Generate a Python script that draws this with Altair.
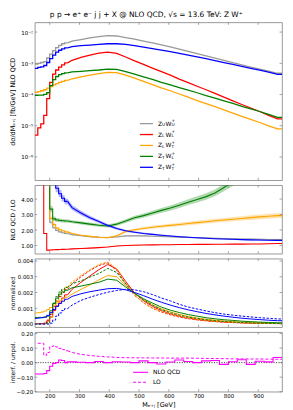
import altair as alt
import pandas as pd

# ---------------- data (bin edges in GeV) ----------------
edges = [150, 160, 170, 180, 190, 200, 210, 220, 230, 240, 250, 260,
         290, 320, 350, 380, 410, 440, 470, 500, 530, 560, 590, 620,
         650, 680, 710, 740, 770, 800, 830, 860, 890, 920, 950, 980]
NFINE = 11  # first 11 bins are 10 GeV wide

series = ["ZU WU", "ZL WL", "ZL WT", "ZT WL", "ZT WT"]
colors = ["#999999", "#ff0000", "#ffa500", "#008000", "#0000ff"]
subs = [("U", "U"), ("L", "L"), ("L", "T"), ("T", "L"), ("T", "T")]

# panel 1: dsigma/dM  [fb/GeV]
xsec_UU = [9.4e-4, 1.0e-3, 1.06e-3, 1.14e-3, 1.48e-3, 1.97e-3, 2.56e-3, 3.18e-3, 3.75e-3, 4.23e-3, 4.54e-3,
           5.1e-3, 5.77e-3, 6.5e-3, 7.16e-3, 7.69e-3, 7.5e-3, 6.7e-3, 5.9e-3, 5.15e-3, 4.5e-3, 3.9e-3, 3.35e-3,
           2.85e-3, 2.42e-3, 2.05e-3, 1.74e-3, 1.47e-3, 1.24e-3, 1.05e-3, 8.9e-4, 7.6e-4, 6.5e-4, 5.6e-4, 4.8e-4]
xsec_LL = [5.0e-6, 8.6e-6, 1.15e-5, 2.14e-5, 7.4e-5, 2.45e-4, 4.47e-4, 6.1e-4, 7.57e-4, 8.9e-4, 1.03e-3,
           1.25e-3, 1.55e-3, 1.83e-3, 2.11e-3, 2.27e-3, 2.07e-3, 1.59e-3, 1.19e-3, 9.2e-4, 7.0e-4, 5.4e-4, 4.16e-4,
           3.12e-4, 2.4e-4, 1.84e-4, 1.42e-4, 1.09e-4, 8.2e-5, 6.3e-5, 4.8e-5, 3.7e-5, 2.86e-5, 2.14e-5, 1.65e-5]
xsec_LT = [1.17e-4, 1.23e-4, 1.32e-4, 1.42e-4, 1.6e-4, 1.8e-4, 2.03e-4, 2.23e-4, 2.46e-4, 2.64e-4, 2.84e-4,
           3.2e-4, 3.69e-4, 4.16e-4, 4.69e-4, 5.15e-4, 5.03e-4, 4.16e-4, 3.35e-4, 2.64e-4, 2.08e-4, 1.64e-4, 1.32e-4,
           1.04e-4, 8.2e-5, 6.4e-5, 5.1e-5, 4.09e-5, 3.22e-5, 2.54e-5, 2.0e-5, 1.61e-5, 1.27e-5, 9.98e-6, 7.9e-6]
xsec_TL = [9.4e-5, 9.6e-5, 9.6e-5, 1.01e-4, 1.14e-4, 1.94e-4, 2.98e-4, 3.78e-4, 4.36e-4, 4.69e-4, 4.92e-4,
           5.28e-4, 5.55e-4, 5.81e-4, 6.1e-4, 6.55e-4, 6.4e-4, 5.4e-4, 4.47e-4, 3.69e-4, 3.05e-4, 2.46e-4, 2.03e-4,
           1.67e-4, 1.38e-4, 1.14e-4, 9.2e-5, 7.6e-5, 6.3e-5, 5.2e-5, 4.19e-5, 3.46e-5, 2.86e-5, 2.3e-5, 1.86e-5]
xsec_TT = [6.87e-4, 7.38e-4, 7.74e-4, 8.5e-4, 1.06e-3, 1.41e-3, 1.83e-3, 2.27e-3, 2.62e-3, 2.88e-3, 3.1e-3,
           3.41e-3, 3.66e-3, 3.85e-3, 4.03e-3, 4.23e-3, 4.23e-3, 4.03e-3, 3.7e-3, 3.3e-3, 2.95e-3, 2.65e-3, 2.35e-3,
           2.07e-3, 1.82e-3, 1.6e-3, 1.4e-3, 1.22e-3, 1.06e-3, 9.2e-4, 8.0e-4, 6.9e-4, 6.0e-4, 5.2e-4, 4.4e-4]

# panel 2: NLO QCD / LO  (9 = above the frame)
kfac_UU = [9, 9, 9, 9, 9, 2.5, 2.15, 1.98, 1.88, 1.82, 1.77,
           1.70, 1.63, 1.57, 1.53, 1.52, 1.55, 1.62, 1.63, 1.62, 1.60, 1.58, 1.56,
           1.54, 1.52, 1.50, 1.48, 1.46, 1.45, 1.43, 1.42, 1.41, 1.40, 1.39, 1.38]
kfac_LL = [9, 9, 9, 1.78, 0.70, 0.71, 0.72, 0.73, 0.74, 0.75, 0.76,
           0.78, 0.80, 0.83, 0.86, 0.90, 0.97, 1.00, 1.02, 1.03, 1.04, 1.05, 1.05,
           1.06, 1.06, 1.07, 1.07, 1.08, 1.08, 1.09, 1.09, 1.10, 1.10, 1.11, 1.13]
kfac_LT = [9, 9, 9, 9, 9, 2.75, 2.35, 2.12, 2.02, 1.95, 1.88,
           1.78, 1.66, 1.59, 1.53, 1.50, 1.62, 1.90, 2.02, 2.10, 2.18, 2.24, 2.30,
           2.36, 2.42, 2.48, 2.54, 2.60, 2.65, 2.70, 2.75, 2.80, 2.85, 2.89, 2.93]
kfac_TL = [9, 9, 9, 9, 9, 3.35, 2.72, 2.65, 2.62, 2.60, 2.58,
           2.53, 2.46, 2.38, 2.31, 2.26, 2.38, 2.58, 2.80, 2.93, 3.10, 3.27, 3.42,
           3.60, 3.80, 3.98, 4.16, 4.40, 4.75, 5.1, 5.5, 5.9, 6.3, 6.7, 7.1]
kfac_TT = [9, 9, 9, 9, 9, 9, 9, 4.7, 4.35, 4.05, 3.85,
           3.45, 3.10, 2.80, 2.55, 2.30, 2.10, 1.95, 1.86, 1.78, 1.72, 1.66, 1.61,
           1.57, 1.53, 1.50, 1.47, 1.44, 1.42, 1.40, 1.38, 1.36, 1.35, 1.34, 1.33]

# scale-uncertainty half widths of the K-factor bands
kband_UU = [0.3, 0.3, 0.3, 0.3, 0.3, 0.12, 0.08, 0.06, 0.05, 0.05, 0.05,
            0.04, 0.04, 0.04, 0.04, 0.04, 0.04, 0.04, 0.04, 0.04, 0.04, 0.04, 0.04,
            0.04, 0.04, 0.04, 0.04, 0.04, 0.05, 0.05, 0.05, 0.05, 0.05, 0.05, 0.05]
kband_LL = [0.02, 0.02, 0.02, 0.03, 0.02, 0.02, 0.02, 0.02, 0.02, 0.02, 0.02,
            0.02, 0.02, 0.02, 0.02, 0.02, 0.02, 0.02, 0.02, 0.02, 0.02, 0.02, 0.02,
            0.02, 0.02, 0.02, 0.02, 0.02, 0.02, 0.02, 0.02, 0.02, 0.02, 0.02, 0.02]
kband_LT = [0.3, 0.3, 0.3, 0.3, 0.3, 0.12, 0.10, 0.08, 0.07, 0.06, 0.06,
            0.05, 0.05, 0.05, 0.05, 0.05, 0.06, 0.07, 0.08, 0.09, 0.09, 0.10, 0.10,
            0.11, 0.11, 0.12, 0.12, 0.13, 0.13, 0.14, 0.14, 0.15, 0.15, 0.16, 0.16]
kband_TL = [0.3, 0.3, 0.3, 0.3, 0.3, 0.20, 0.15, 0.13, 0.12, 0.12, 0.11,
            0.10, 0.10, 0.10, 0.10, 0.10, 0.11, 0.12, 0.13, 0.14, 0.15, 0.16, 0.17,
            0.18, 0.19, 0.20, 0.21, 0.22, 0.24, 0.26, 0.28, 0.30, 0.30, 0.30, 0.30]
kband_TT = [0.3, 0.3, 0.3, 0.3, 0.3, 0.3, 0.3, 0.25, 0.22, 0.20, 0.18,
            0.16, 0.14, 0.12, 0.10, 0.09, 0.08, 0.07, 0.06, 0.06, 0.05, 0.05, 0.05,
            0.04, 0.04, 0.04, 0.04, 0.04, 0.04, 0.04, 0.04, 0.04, 0.04, 0.04, 0.04]

# panel 3: normalized shapes (units of 1e-3 / GeV), NLO QCD solid, LO dashed
norm_LL = [0.01, 0.02, 0.03, 0.06, 0.2, 0.45, 0.85, 1.15, 1.4, 1.65, 1.85,
           2.2, 2.65, 3.05, 3.45, 3.78, 3.5, 2.7, 1.97, 1.48, 1.12, 0.85, 0.65,
           0.5, 0.38, 0.29, 0.22, 0.17, 0.13, 0.10, 0.08, 0.06, 0.046, 0.035, 0.027]
norm_LT = [0.70, 0.72, 0.76, 0.82, 0.92, 1.05, 1.2, 1.33, 1.47, 1.6, 1.7,
           1.9, 2.2, 2.48, 2.8, 3.08, 3.0, 2.45, 1.95, 1.55, 1.22, 0.96, 0.77,
           0.61, 0.48, 0.38, 0.3, 0.24, 0.19, 0.15, 0.12, 0.095, 0.075, 0.06, 0.047]
norm_TL = [0.41, 0.42, 0.42, 0.44, 0.50, 0.84, 1.30, 1.64, 1.90, 2.04, 2.14,
           2.30, 2.41, 2.53, 2.65, 2.85, 2.78, 2.35, 1.94, 1.60, 1.33, 1.07, 0.88,
           0.73, 0.60, 0.50, 0.40, 0.33, 0.27, 0.23, 0.18, 0.15, 0.12, 0.10, 0.08]
norm_TT = [0.36, 0.38, 0.40, 0.44, 0.55, 0.72, 0.92, 1.12, 1.30, 1.45, 1.57,
           1.75, 1.92, 2.05, 2.15, 2.24, 2.26, 2.17, 2.00, 1.80, 1.58, 1.38, 1.20,
           1.04, 0.90, 0.78, 0.67, 0.58, 0.50, 0.43, 0.37, 0.32, 0.28, 0.24, 0.21]
normlo_LL = [0.005, 0.01, 0.02, 0.03, 0.25, 0.6, 1.1, 1.45, 1.75, 2.0, 2.2,
             2.55, 3.0, 3.4, 3.72, 3.88, 3.4, 2.55, 1.82, 1.35, 1.0, 0.76, 0.58,
             0.44, 0.34, 0.26, 0.2, 0.15, 0.115, 0.09, 0.07, 0.053, 0.041, 0.031, 0.024]
normlo_LT = [0, 0, 0, 0, 0.02, 0.4, 0.95, 1.45, 1.85, 2.15, 2.35,
             2.68, 3.08, 3.45, 3.78, 3.94, 3.5, 2.6, 1.85, 1.35, 1.0, 0.8, 0.63,
             0.49, 0.38, 0.29, 0.23, 0.17, 0.135, 0.105, 0.082, 0.064, 0.05, 0.039, 0.031]
normlo_TL = [0, 0, 0, 0, 0.1, 0.70, 1.34, 1.73, 2.03, 2.2, 2.32,
             2.55, 2.74, 2.98, 3.21, 3.53, 3.27, 2.55, 1.94, 1.53, 1.2, 0.92, 0.72,
             0.57, 0.44, 0.35, 0.27, 0.21, 0.16, 0.126, 0.092, 0.071, 0.053, 0.042, 0.032]
normlo_TT = [0, 0, 0, 0, 0, 0.05, 0.25, 0.5, 0.7, 0.85, 0.98,
             1.2, 1.5, 1.7, 1.87, 2.02, 2.13, 2.2, 2.17, 2.05, 1.87, 1.65, 1.47,
             1.25, 1.08, 0.95, 0.83, 0.72, 0.63, 0.56, 0.5, 0.45, 0.4, 0.36, 0.32]

# panel 4: interference / unpolarized
interf_nlo = [-0.078, -0.078, -0.078, -0.075, -0.055, -0.025, -0.005, 0.0, 0.018, 0.015, 0.0,
              0.005, 0.003, 0.0, 0.008, 0.0, 0.006, 0.004, 0.0, 0.012, 0.0, -0.01, 0.004,
              0.018, 0.008, 0.0, 0.012, 0.015, -0.012, 0.006, 0.02, -0.012, 0.01, 0.005, 0.035]
interf_lo = [None, 0.133, 0.133, 0.05, 0.07, 0.11, 0.115, 0.108, 0.098, 0.09, 0.082,
             0.07, 0.057, 0.049, 0.043, 0.039, 0.036, 0.034, 0.033, 0.033, 0.032, 0.032, 0.031,
             0.031, 0.031, 0.030, 0.029, 0.028, 0.027, 0.026, 0.026, 0.025, 0.025, 0.024, 0.023]

xticks = [200, 300, 400, 500, 600, 700, 800, 900]

# ---------------- styling ----------------
FONT = "DejaVu Sans"
FRAME = "#808080"
MAG = "#ff00ff"
W = 249
H1, H2, H3, H4 = 159, 69, 69, 60
TICK = 2.5
xsc = alt.Scale(domain=[150, 980], nice=False, zero=False)


def steps(vals, scale=1.0):
    rows = []
    n = len(vals)
    for i in range(n):
        if vals[i] is None:
            continue
        rows.append({"M": edges[i], "v": vals[i] * scale})
    rows.append({"M": edges[n], "v": vals[n - 1] * scale})
    return pd.DataFrame(rows)


def split(vals, half=None, scale=1.0):
    """Fine 10-GeV bins drawn as steps, wide bins drawn through their centres."""
    def row(m, i):
        h = half[i] if half else 0.0
        v = vals[i]
        return {"M": m, "v": v * scale, "lo": (v - h) * scale, "hi": (v + h) * scale}
    st, ln = [], []
    for i in range(NFINE):
        if vals[i] is None:
            continue
        st.append(row(edges[i], i))
    st.append(row(edges[NFINE], NFINE - 1))
    ln.append(row(edges[NFINE], NFINE - 1))
    for i in range(NFINE, len(vals)):
        ln.append(row((edges[i] + edges[i + 1]) / 2, i))
    n = len(vals)
    ln.append(row(edges[n], n - 1))
    return pd.DataFrame(st), pd.DataFrame(ln)


def frame_ticks(H, ysc, yvals, yax, xax=None):
    tx = pd.DataFrame({"t": xticks})
    ty = pd.DataFrame({"t": yvals})
    st = dict(color=FRAME, strokeWidth=0.7)
    xe = alt.X("t:Q", scale=xsc, axis=xax)
    ye = alt.Y("t:Q", scale=ysc, axis=yax)
    return [
        alt.Chart(tx).mark_rule(**st).encode(x=xe, y=alt.value(0), y2=alt.value(TICK)),
        alt.Chart(tx).mark_rule(**st).encode(x=xe, y=alt.value(H), y2=alt.value(H - TICK)),
        alt.Chart(ty).mark_rule(**st).encode(y=ye, x=alt.value(0), x2=alt.value(TICK)),
        alt.Chart(ty).mark_rule(**st).encode(y=ye, x=alt.value(W), x2=alt.value(W - TICK)),
    ]


def yaxis(title, H, values, fmt=None, expr=None, tsize=6):
    kw = dict(values=values, title=title, titleX=-22, titleY=H / 2, titleAngle=270,
              titleAlign="center", titleBaseline="middle", labelFontSize=5.5,
              labelPadding=2, titleFontSize=tsize)
    if fmt:
        kw["format"] = fmt
    if expr:
        kw["labelExpr"] = expr
    return alt.Axis(**kw)


ONE = alt.Data(values=[{"a": 1}])


def txt(s, x, y, size):
    return alt.Chart(ONE).mark_text(text=s, align="left", baseline="middle", font=FONT,
                                    fontSize=size, color="black").encode(
        x=alt.value(x), y=alt.value(y))


def legline(c, x0, x1, y, dash=None, width=1.3):
    kw = dict(color=c, strokeWidth=width)
    if dash:
        kw["strokeDash"] = dash
    return alt.Chart(ONE).mark_rule(**kw).encode(x=alt.value(x0), x2=alt.value(x1), y=alt.value(y))


def hybrid_lines(vals, c, ysc, yax, width, dash=None, scale=1.0, xax=None):
    out = []
    sdf, ldf = split(vals, scale=scale)
    for df, ip in ((sdf, "step-after"), (ldf, "linear")):
        kw = dict(interpolate=ip, color=c, strokeWidth=width, clip=True)
        if dash:
            kw["strokeDash"] = dash
        out.append(alt.Chart(df).mark_line(**kw).encode(
            x=alt.X("M:Q", scale=xsc, axis=xax), y=alt.Y("v:Q", scale=ysc, axis=yax)))
    return out


XN = alt.X("M:Q", scale=xsc, axis=None)

# ---------------- panel 1 ----------------
LOGEXPR = ("round(log(datum.value)/LN10) == -2 ? '10⁻²' : "
           "round(log(datum.value)/LN10) == -3 ? '10⁻³' : "
           "round(log(datum.value)/LN10) == -4 ? '10⁻⁴' : "
           "round(log(datum.value)/LN10) == -5 ? '10⁻⁵' : '10⁻⁶'")
y1vals = [1e-6, 1e-5, 1e-4, 1e-3, 1e-2]
y1 = alt.Scale(type="log", domain=[1.8e-7, 2.05e-2], nice=False)
ax1 = yaxis("dσ/dMₑ₊ⱼ [fb/GeV] NLO QCD", H1, y1vals, expr=LOGEXPR, tsize=6.5)
p1_layers = []
for vals, c in zip([xsec_UU, xsec_LL, xsec_LT, xsec_TL, xsec_TT], colors):
    p1_layers += hybrid_lines(vals, c, y1, ax1, 1.3)
p1_layers += frame_ticks(H1, y1, y1vals, ax1)
for k, (c, (s1, s2)) in enumerate(zip(colors, subs)):
    yy = 102 + 11 * k
    x0 = 124
    p1_layers.append(legline(c, 106, 119, yy))
    p1_layers.append(txt("Z", x0, yy, 6))
    p1_layers.append(txt(s1, x0 + 4.2, yy + 1.8, 4.3))
    p1_layers.append(txt("W", x0 + 7.6, yy, 6))
    p1_layers.append(txt(s2, x0 + 13.6, yy + 1.8, 4.3))
    p1_layers.append(txt("+", x0 + 13.6, yy - 2.4, 4.3))
p1 = alt.layer(*p1_layers).properties(width=W, height=H1)

# ---------------- panel 2 ----------------
y2vals = [1, 2, 3, 4]
y2s = alt.Scale(domain=[0.47, 4.9], nice=False, zero=False)
ax2 = yaxis("NLO QCD / LO", H2, y2vals, fmt=".2f")
kf = [kfac_UU, kfac_LL, kfac_LT, kfac_TL, kfac_TT]
kb = [kband_UU, kband_LL, kband_LT, kband_TL, kband_TT]
p2_layers = []
for vals, half, c in zip(kf, kb, colors):
    sdf, ldf = split(vals, half)
    for df, ip in ((sdf, "step-after"), (ldf, "linear")):
        p2_layers.append(alt.Chart(df).mark_area(
            interpolate=ip, color=c, opacity=0.3, clip=True).encode(
            x=XN, y=alt.Y("lo:Q", scale=y2s, axis=ax2), y2=alt.Y2("hi:Q")))
for vals, c in zip(kf, colors):
    p2_layers += hybrid_lines(vals, c, y2s, ax2, 1.1)
p2_layers += frame_ticks(H2, y2s, y2vals, ax2)
p2 = alt.layer(*p2_layers).properties(width=W, height=H2)

# ---------------- panel 3 ----------------
y3vals = [0, 0.001, 0.002, 0.003, 0.004]
y3s = alt.Scale(domain=[-0.0002, 0.00415], nice=False, zero=False)
ax3 = yaxis("normalized", H3, y3vals, fmt=".3f")
p3_layers = []
for nlo, lo, c in zip([norm_LL, norm_LT, norm_TL, norm_TT],
                      [normlo_LL, normlo_LT, normlo_TL, normlo_TT], colors[1:]):
    p3_layers += hybrid_lines(lo, c, y3s, ax3, 1.0, dash=[2.5, 1.5], scale=1e-3)
    p3_layers += hybrid_lines(nlo, c, y3s, ax3, 1.0, scale=1e-3)
p3_layers += frame_ticks(H3, y3s, y3vals, ax3)
p3 = alt.layer(*p3_layers).properties(width=W, height=H3)

# ---------------- panel 4 ----------------
y4vals = [-0.2, -0.1, 0.0, 0.1, 0.2]
y4s = alt.Scale(domain=[-0.2, 0.21], nice=False, zero=False)
ax4 = yaxis("interf. / unpol.", H4, y4vals, fmt=".2f")
xax = alt.Axis(values=xticks, format="d", title="Mₑ₊ⱼ [GeV]", labelFontSize=5.5,
               titleFontSize=6.5, labelPadding=2, titlePadding=2)
p4_layers = [
    alt.Chart(pd.DataFrame({"z": [0.0]})).mark_rule(
        color="black", strokeDash=[1, 1.5], strokeWidth=0.8).encode(
        y=alt.Y("z:Q", scale=y4s, axis=ax4)),
]
p4_layers += hybrid_lines(interf_lo, MAG, y4s, ax4, 1.0, dash=[3, 2], xax=xax)
p4_layers.append(alt.Chart(steps(interf_nlo)).mark_line(
    interpolate="step-after", color=MAG, strokeWidth=1.1, clip=True).encode(
    x=alt.X("M:Q", scale=xsc, axis=xax), y=alt.Y("v:Q", scale=y4s, axis=ax4)))
p4_layers += frame_ticks(H4, y4s, y4vals, ax4, xax)
p4_layers += [
    legline(MAG, 99, 114, 40.5, width=1.1),
    txt("NLO QCD", 119, 40.5, 6),
    legline(MAG, 99, 114, 50.5, dash=[3, 2], width=1.0),
    txt("LO", 119, 50.5, 6),
]
p4 = alt.layer(*p4_layers).properties(width=W, height=H4)

chart = alt.vconcat(p1, p2, p3, p4, spacing=3).properties(
    title=alt.TitleParams("p p → e⁺ e⁻ j j + X @ NLO QCD, √s = 13.6 TeV: Z W⁺",
                          fontSize=7.5, font=FONT, fontWeight="normal", anchor="middle", offset=3),
    padding={"left": 1, "right": 2, "top": 1, "bottom": 1},
).configure_view(stroke=FRAME, strokeWidth=0.8).configure_axis(
    labelFont=FONT, titleFont=FONT, domain=False, ticks=False, grid=False,
    labelColor="black", titleColor="black", titleFontWeight="normal")

chart.save("out.html", embed_options={"renderer": "svg", "actions": False})
